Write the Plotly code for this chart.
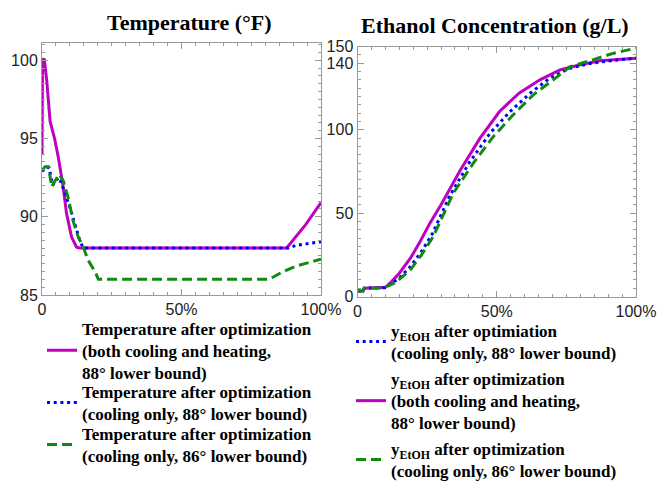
import plotly.graph_objects as go

# ---------------- data ----------------
# Temperature (°F) vs progress (%)
temp_mag_x = [0, 0.2, 0.8, 1.7, 2.9, 4.5, 5.85, 7.6, 8.8, 10.6, 12.4, 13.5, 30, 50, 70, 87.7, 94.5, 100]
temp_mag_y = [94.0, 100.0, 100.1, 98.7, 96.1, 95.0, 93.8, 91.9, 90.2, 88.7, 88.05, 88.0, 88, 88, 88, 88.0, 89.5, 90.9]

temp_blue_x = [0, 1.6, 2.6, 3.8, 5.3, 6.2, 8, 10, 12, 13.6, 14.8, 30, 50, 70, 88.3, 91.3, 96, 100]
temp_blue_y = [92.9, 93.2, 93.1, 92.0, 92.4, 92.5, 91.6, 90.6, 89.4, 88.46, 88.0, 88, 88, 88, 88.0, 88.18, 88.3, 88.4]

temp_green_x = [0, 1.1, 2.3, 3.5, 4.7, 6.2, 7.6, 9.4, 11.2, 13, 14.8, 16.6, 19, 20.2, 50, 81.1, 82.9, 86.5, 91.3, 96.1, 100]
temp_green_y = [92.95, 93.2, 93.2, 91.9, 92.3, 92.7, 92.3, 91.2, 89.7, 88.7, 88.05, 87.2, 86.5, 86.0, 86, 86.0, 86.15, 86.5, 86.86, 87.07, 87.29]

# Ethanol concentration (g/L) vs progress (%)
eth_mag_x = [0, 2.0, 2.4, 10, 12, 15, 19, 22.5, 26, 30, 37, 44, 51, 58, 65.5, 72.7, 80, 87, 100]
eth_mag_y = [3.3, 3.3, 5.0, 5.5, 8.5, 14, 23, 33, 44, 55, 76, 95, 111, 122, 130, 136, 139, 141.5, 143]

eth_blue_x = [0, 2.0, 2.4, 10, 12, 15, 19, 23, 27, 33, 40, 47.6, 54.8, 62, 69, 76.3, 83.5, 91, 100]
eth_blue_y = [3.3, 3.3, 5.0, 5.3, 7.5, 11, 18, 27, 38, 60, 80, 98, 111, 122, 131, 137, 139.8, 141.5, 143]

eth_green_x = [0, 2.0, 2.4, 9.4, 13, 15, 19, 23, 27.2, 34.4, 41.6, 48.8, 55.9, 63.1, 70.3, 76.3, 83.5, 92, 100]
eth_green_y = [3.3, 3.3, 4.9, 5.2, 7.9, 10.3, 16, 25, 36, 62, 80, 96, 109, 121, 130, 137.9, 141.5, 146, 149]

x_tickvals = [0, 50, 100]
x_ticktext = ["0", "50%", "100%"]
temp_ticks = [85, 90, 95, 100]
eth_ticks = [0, 50, 100, 140, 150]

temp_names = [
    "<b>Temperature after optimization<br>(both cooling and heating,<br>88° lower bound)</b>",
    "<b>Temperature after optimization<br>(cooling only, 88° lower bound)</b>",
    "<b>Temperature after optimization<br>(cooling only, 86° lower bound)</b>",
]
eth_names = [
    "<b>y<sub>EtOH</sub> after optimization<br>(both cooling and heating,<br>88° lower bound)</b>",
    "<b>y<sub>EtOH</sub> after optimiation<br>(cooling only, 88° lower bound)</b>",
    "<b>y<sub>EtOH</sub> after optimization<br>(cooling only, 86° lower bound)</b>",
]

MAG = "#C000C0"
BLUE = "#0000FF"
GREEN = "#108A10"
DOT = "3px,3.7px"
DASH = "10px,5px"

fig = go.Figure()

# left panel
fig.add_trace(go.Scatter(x=temp_mag_x, y=temp_mag_y, mode="lines", name=temp_names[0],
                         line=dict(color=MAG, width=3), xaxis="x", yaxis="y", legend="legend"))
fig.add_trace(go.Scatter(x=temp_blue_x, y=temp_blue_y, mode="lines", name=temp_names[1],
                         line=dict(color=BLUE, width=3, dash=DOT), xaxis="x", yaxis="y", legend="legend2"))
fig.add_trace(go.Scatter(x=temp_green_x, y=temp_green_y, mode="lines", name=temp_names[2],
                         line=dict(color=GREEN, width=3, dash=DASH), xaxis="x", yaxis="y", legend="legend3"))

# right panel
fig.add_trace(go.Scatter(x=eth_mag_x, y=eth_mag_y, mode="lines", name=eth_names[0],
                         line=dict(color=MAG, width=3), xaxis="x2", yaxis="y2", legend="legend5"))
fig.add_trace(go.Scatter(x=eth_blue_x, y=eth_blue_y, mode="lines", name=eth_names[1],
                         line=dict(color=BLUE, width=3, dash=DOT), xaxis="x2", yaxis="y2", legend="legend4"))
fig.add_trace(go.Scatter(x=eth_green_x, y=eth_green_y, mode="lines", name=eth_names[2],
                         line=dict(color=GREEN, width=3, dash=DASH), xaxis="x2", yaxis="y2", legend="legend6"))

W, H = 658, 487
FRAME = "#999999"
tickfont = dict(family="Liberation Sans", size=16, color="#222222")

def xaxis(dom, anchor):
    return dict(domain=dom, anchor=anchor, range=[0, 100], tickvals=x_tickvals, ticktext=x_ticktext,
                showline=True, linecolor=FRAME, linewidth=1, mirror="allticks", ticks="inside",
                ticklen=6, tickcolor=FRAME, showgrid=False, zeroline=False, tickfont=tickfont,
                minor=dict(ticks="inside", dtick=5, ticklen=3, tickcolor=FRAME, showgrid=False))

def yaxis(dom, anchor, rng, tv, mdt):
    return dict(domain=dom, anchor=anchor, range=rng, tickvals=tv,
                showline=True, linecolor=FRAME, linewidth=1, mirror="allticks", ticks="inside",
                ticklen=6, tickcolor=FRAME, showgrid=False, zeroline=False, tickfont=tickfont,
                minor=dict(ticks="inside", dtick=mdt, ticklen=3, tickcolor=FRAME, showgrid=False))

legfont = dict(family="Liberation Serif", size=17, color="#000000")

def leg(xpx, toppx):
    return dict(x=xpx / W, y=1 - toppx / H, xanchor="left", yanchor="top", font=legfont,
                bgcolor="rgba(0,0,0,0)", borderwidth=0, tracegroupgap=0, visible=True)

fig.update_layout(
    width=W, height=H, margin=dict(l=0, r=0, t=0, b=0, autoexpand=False),
    paper_bgcolor="white", plot_bgcolor="white", showlegend=True,
    xaxis=xaxis([42 / W, 321 / W], "y"),
    yaxis=yaxis([1 - 295 / H, 1 - 43 / H], "x", [85, 101.1], temp_ticks, 0.5),
    xaxis2=xaxis([357.5 / W, 636 / W], "y2"),
    yaxis2=yaxis([1 - 296.5 / H, 1 - 46.5 / H], "x2", [0, 150], eth_ticks, 5),
    legend=leg(42, 310.5),
    legend2=leg(42, 374),
    legend3=leg(42, 416),
    legend4=leg(351, 313),
    legend5=leg(351, 361),
    legend6=leg(351, 431),
    annotations=[
        dict(text="<b>Temperature (°F)</b>", x=189 / W, y=1 - 22 / H, xref="paper", yref="paper",
             showarrow=False, xanchor="center", yanchor="middle",
             font=dict(family="Liberation Serif", size=22, color="#000000")),
        dict(text="<b>Ethanol Concentration (g/L)</b>", x=495 / W, y=1 - 25 / H, xref="paper", yref="paper",
             showarrow=False, xanchor="center", yanchor="middle",
             font=dict(family="Liberation Serif", size=22, color="#000000")),
    ],
)

fig.write_html("out.html")
